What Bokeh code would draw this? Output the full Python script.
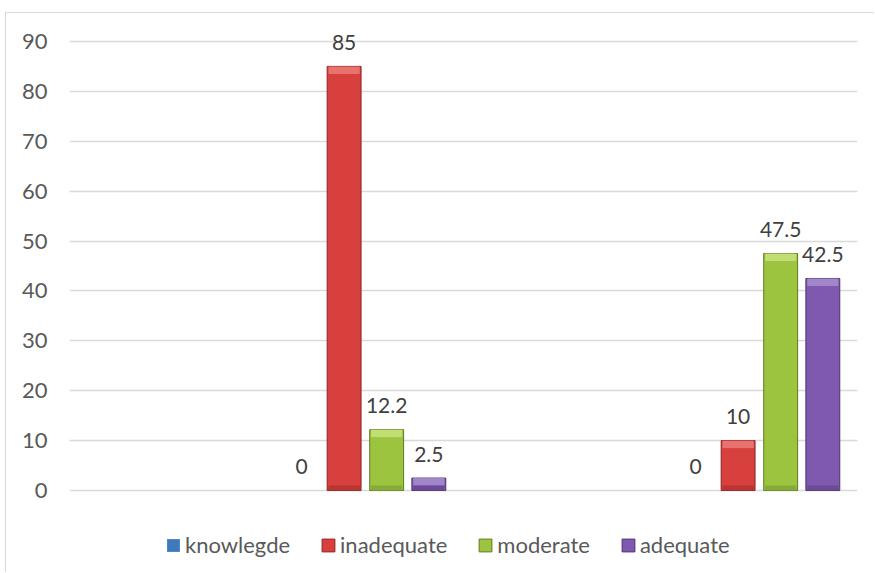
from bokeh.plotting import figure
from bokeh.models import (ColumnDataSource, FactorRange, Range1d, FixedTicker,
                          Legend, LegendItem, LabelSet)
from bokeh.core.properties import value
from bokeh.transform import dodge
from bokeh.embed import file_html
from bokeh.resources import INLINE

# ---- data ----
groups = ["group 1", "group 2"]
series = ["knowlegde", "inadequate", "moderate", "adequate"]
knowlegde = [0, 0]
inadequate = [85, 10]
moderate = [12.2, 47.5]
adequate = [2.5, 42.5]
y_ticks = [0, 10, 20, 30, 40, 50, 60, 70, 80, 90]

colors = ["#3E78BD", "#D8403D", "#9CC43F", "#7F59AF"]
edge_colors = ["#234B7A", "#8A2422", "#5E7A22", "#4B3270"]
top_colors = ["#6D9ED6", "#E8726D", "#C0DE72", "#A186C9"]
bottom_colors = ["#35679F", "#B93533", "#87AB36", "#6C4B96"]
offsets = [0.089, 0.197, 0.305, 0.412]
FONT = "Lato"
TXT = "#404040"
FS = "21px"

values = {"knowlegde": knowlegde, "inadequate": inadequate,
          "moderate": moderate, "adequate": adequate}

# y range extends below 0 so the legend area lies inside the frame
p = figure(x_range=FactorRange(factors=groups, range_padding=0),
           y_range=Range1d(-16.63, 95),
           width=869, height=560,
           output_backend="svg", toolbar_location=None,
           min_border_left=63, min_border_right=18,
           min_border_top=3, min_border_bottom=0,
           styles={"margin-left": "5px", "margin-top": "12px",
                   "border-left": "1px solid #d9d9d9",
                   "border-top": "1px solid #d9d9d9"})
p.outline_line_color = None
p.background_fill_color = "white"
p.border_fill_color = "white"

p.xaxis.visible = False
p.xgrid.visible = False
p.ygrid.ticker = FixedTicker(ticks=y_ticks)
p.ygrid.grid_line_color = "#d9d9d9"
p.ygrid.grid_line_width = 1.3

yax = p.yaxis[0]
yax.ticker = FixedTicker(ticks=y_ticks)
yax.axis_line_color = None
yax.major_tick_line_color = None
yax.minor_tick_line_color = None
yax.major_label_standoff = 16
yax.major_label_text_font = FONT
yax.major_label_text_font_size = "22px"
yax.major_label_text_color = "#595959"

bar_w = 0.086
bevel = 1.5  # data units of top highlight
items = []
for i, name in enumerate(series):
    vals = values[name]
    src = ColumnDataSource(dict(
        x=groups, top=vals,
        btop=[max(v - bevel, 0) for v in vals],
        bbot=[min(v, 1.0) for v in vals],
        la=[1.0 if v > 0 else 0.0 for v in vals],
        lab=[("%g" % v) for v in vals]))
    xd = dodge("x", offsets[i], range=p.x_range)
    r = p.vbar(x=xd, top="top", bottom=0, width=bar_w, source=src,
               fill_color=colors[i], line_color=edge_colors[i],
               line_alpha="la", line_width=1)
    p.vbar(x=xd, top="top", bottom="btop", width=bar_w * 0.92, source=src,
           fill_color=top_colors[i], line_color=None)
    p.vbar(x=xd, top="bbot", bottom=0, width=bar_w * 0.92, source=src,
           fill_color=bottom_colors[i], line_color=None)
    items.append(LegendItem(label=name, renderers=[r]))
    labels = LabelSet(x=xd, y="top", text="lab", source=src,
                      text_align="center", text_baseline="middle",
                      y_offset=24, text_font=value(FONT), text_font_size=value(FS),
                      text_color=value(TXT))
    p.add_layout(labels)

legend = Legend(items=items, orientation="horizontal",
                location=(96, 15), padding=0, margin=0, spacing=30,
                glyph_width=16, glyph_height=16, label_standoff=4,
                label_text_font=FONT, label_text_font_size="22px",
                label_text_color="#595959",
                border_line_color=None, background_fill_alpha=0)
p.add_layout(legend, "center")

open("out.html", "w").write(file_html(p, INLINE))
